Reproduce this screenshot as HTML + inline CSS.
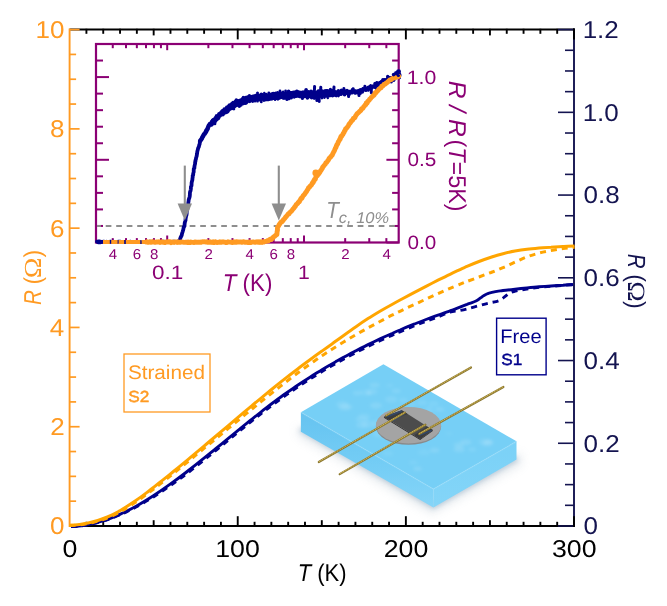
<!DOCTYPE html>
<html><head><meta charset="utf-8"><title>R(T) strained vs free</title>
<style>
html,body{margin:0;padding:0;background:#fff;}
body{width:667px;height:606px;overflow:hidden;position:relative;font-family:"Liberation Sans",sans-serif;}
</style></head><body>
<svg width="667" height="606" viewBox="0 0 667 606" style="position:absolute;left:0;top:0;display:block;will-change:transform;text-rendering:geometricPrecision">
<rect x="0" y="0" width="667" height="606" fill="#ffffff"/>
<defs>
<filter id="blur6" x="-30%" y="-30%" width="160%" height="160%"><feGaussianBlur stdDeviation="5"/></filter>
<filter id="blur3" x="-30%" y="-30%" width="160%" height="160%"><feGaussianBlur stdDeviation="2.6"/></filter>
<filter id="blur2" x="-30%" y="-30%" width="160%" height="160%"><feGaussianBlur stdDeviation="1.6"/></filter>
<filter id="blur1" x="-10%" y="-10%" width="120%" height="120%"><feGaussianBlur stdDeviation="0.45"/></filter>
<linearGradient id="gl" x1="0" y1="0" x2="0" y2="1"><stop offset="0" stop-color="#66c3f0"/><stop offset="0.55" stop-color="#74cdf5"/><stop offset="1" stop-color="#86d5f8"/></linearGradient>
<linearGradient id="gr" x1="0" y1="0" x2="0" y2="1"><stop offset="0" stop-color="#7ad1f7"/><stop offset="1" stop-color="#84d5f8"/></linearGradient>
<clipPath id="topclip"><polygon points="300.9,412.2 383.4,364.2 516.5,441.3 433.4,489"/></clipPath>
</defs>
<g>
<polygon points="296,426 299,437 432,514 521,465 522,452 436,500" fill="#8aa0b0" opacity="0.20" filter="url(#blur6)"/>
<polyline points="300.5,429 433.4,505.5 516.8,458" fill="none" stroke="#6f93b2" stroke-width="6" opacity="0.42" filter="url(#blur3)"/>
<g filter="url(#blur1)">
<polygon points="300.9,412.2 300.9,431.8 433.4,507.6 433.4,489" fill="url(#gl)"/>
<polygon points="516.5,441.3 516.5,459.6 433.4,507.6 433.4,489" fill="url(#gr)"/>
<polygon points="300.9,412.2 383.4,364.2 516.5,441.3 433.4,489" fill="#76cff6"/>
</g>
<g clip-path="url(#topclip)" filter="url(#blur2)">
<ellipse cx="395.2" cy="440.0" rx="4.4" ry="2.3" fill="#c6ecfc" opacity="0.15"/>
<ellipse cx="368.8" cy="393.5" rx="3.0" ry="1.6" fill="#c6ecfc" opacity="0.18"/>
<ellipse cx="362.2" cy="419.2" rx="6.7" ry="3.6" fill="#c6ecfc" opacity="0.13"/>
<ellipse cx="429.1" cy="411.5" rx="5.4" ry="2.9" fill="#c6ecfc" opacity="0.09"/>
<ellipse cx="458.7" cy="444.9" rx="5.0" ry="2.6" fill="#c6ecfc" opacity="0.17"/>
<ellipse cx="371.8" cy="391.6" rx="5.8" ry="3.1" fill="#c6ecfc" opacity="0.15"/>
<ellipse cx="342.4" cy="404.4" rx="6.2" ry="3.3" fill="#c6ecfc" opacity="0.13"/>
<ellipse cx="465.7" cy="442.2" rx="5.7" ry="3.0" fill="#c6ecfc" opacity="0.19"/>
<ellipse cx="434.6" cy="450.2" rx="4.7" ry="2.5" fill="#c6ecfc" opacity="0.19"/>
<ellipse cx="389.9" cy="385.4" rx="3.5" ry="1.9" fill="#c6ecfc" opacity="0.10"/>
<ellipse cx="433.6" cy="403.7" rx="5.3" ry="2.9" fill="#c6ecfc" opacity="0.11"/>
<ellipse cx="396.2" cy="418.9" rx="4.3" ry="2.3" fill="#c6ecfc" opacity="0.15"/>
<ellipse cx="459.2" cy="449.3" rx="5.6" ry="3.0" fill="#c6ecfc" opacity="0.19"/>
<ellipse cx="487.7" cy="443.9" rx="5.5" ry="2.9" fill="#c6ecfc" opacity="0.09"/>
<ellipse cx="485.1" cy="442.0" rx="6.4" ry="3.4" fill="#c6ecfc" opacity="0.14"/>
<ellipse cx="391.1" cy="399.3" rx="6.1" ry="3.3" fill="#c6ecfc" opacity="0.14"/>
<ellipse cx="344.9" cy="407.1" rx="6.2" ry="3.3" fill="#c6ecfc" opacity="0.20"/>
<ellipse cx="413.3" cy="462.6" rx="4.5" ry="2.4" fill="#c6ecfc" opacity="0.09"/>
<ellipse cx="424.0" cy="452.3" rx="6.3" ry="3.3" fill="#c6ecfc" opacity="0.08"/>
<ellipse cx="365.7" cy="392.6" rx="5.7" ry="3.0" fill="#c6ecfc" opacity="0.11"/>
<ellipse cx="488.3" cy="442.2" rx="4.9" ry="2.6" fill="#c6ecfc" opacity="0.20"/>
<ellipse cx="348.1" cy="407.0" rx="5.2" ry="2.8" fill="#c6ecfc" opacity="0.07"/>
<ellipse cx="377.2" cy="432.9" rx="5.3" ry="2.8" fill="#c6ecfc" opacity="0.09"/>
<ellipse cx="417.6" cy="468.8" rx="4.2" ry="2.2" fill="#c6ecfc" opacity="0.19"/>
<ellipse cx="422.3" cy="402.7" rx="4.7" ry="2.5" fill="#c6ecfc" opacity="0.14"/>
<ellipse cx="429.0" cy="427.0" rx="5.1" ry="2.7" fill="#c6ecfc" opacity="0.15"/>
<ellipse cx="439.7" cy="409.3" rx="4.6" ry="2.5" fill="#c6ecfc" opacity="0.16"/>
<ellipse cx="368.1" cy="424.3" rx="6.7" ry="3.6" fill="#c6ecfc" opacity="0.14"/>
<ellipse cx="357.4" cy="393.1" rx="4.6" ry="2.4" fill="#c6ecfc" opacity="0.15"/>
<ellipse cx="388.0" cy="453.4" rx="5.4" ry="2.9" fill="#c6ecfc" opacity="0.08"/>
<ellipse cx="413.5" cy="419.3" rx="5.5" ry="3.0" fill="#c6ecfc" opacity="0.12"/>
<ellipse cx="449.2" cy="433.6" rx="3.1" ry="1.6" fill="#c6ecfc" opacity="0.08"/>
<ellipse cx="472.2" cy="449.4" rx="3.9" ry="2.1" fill="#c6ecfc" opacity="0.13"/>
<ellipse cx="394.8" cy="411.3" rx="4.4" ry="2.3" fill="#c6ecfc" opacity="0.11"/>
<ellipse cx="410.0" cy="438.0" rx="4.1" ry="2.2" fill="#c6ecfc" opacity="0.12"/>
<ellipse cx="374.6" cy="385.1" rx="5.1" ry="2.7" fill="#c6ecfc" opacity="0.17"/>
<ellipse cx="364.4" cy="416.4" rx="6.0" ry="3.2" fill="#c6ecfc" opacity="0.10"/>
<ellipse cx="379.5" cy="435.0" rx="5.6" ry="3.0" fill="#c6ecfc" opacity="0.08"/>
<ellipse cx="377.6" cy="423.1" rx="6.1" ry="3.3" fill="#c6ecfc" opacity="0.13"/>
<ellipse cx="396.2" cy="390.9" rx="4.3" ry="2.3" fill="#c6ecfc" opacity="0.15"/>
<ellipse cx="429.6" cy="407.9" rx="3.8" ry="2.1" fill="#c6ecfc" opacity="0.09"/>
<ellipse cx="376.0" cy="405.5" rx="6.0" ry="3.2" fill="#c6ecfc" opacity="0.18"/>
<ellipse cx="361.8" cy="425.1" rx="6.0" ry="3.2" fill="#c6ecfc" opacity="0.15"/>
<ellipse cx="412.4" cy="404.3" rx="3.5" ry="1.9" fill="#c6ecfc" opacity="0.11"/>
<ellipse cx="403.3" cy="400.0" rx="4.3" ry="2.3" fill="#c6ecfc" opacity="0.12"/>
<ellipse cx="392.8" cy="424.0" rx="6.5" ry="3.4" fill="#c6ecfc" opacity="0.09"/>
</g>
<polyline points="300.9,412.4 433.4,489.2 516.5,441.5" fill="none" stroke="#a6e0fa" stroke-width="1.6" opacity="0.28" filter="url(#blur1)"/>
<line x1="433.4" y1="489.2" x2="433.4" y2="507" stroke="#8fd8f8" stroke-width="0.8" opacity="0.6"/>
<ellipse cx="408.5" cy="426.3" rx="32.6" ry="18.5" fill="#8a8a8a"/>
<ellipse cx="408.5" cy="425.2" rx="32.6" ry="18.3" fill="#a4a4a4"/>
<polygon points="383.9,417.7 420.1,440.0 432.8,431.0 432.8,430.1 420.2,439.0 384.0,416.8" fill="#2e2e2e"/>
<polygon points="384.0,416.8 401.8,410.2 432.8,430.1 420.2,439.0" fill="#4c4c4c"/>
<polygon points="384.0,416.8 401.8,410.2 407.6,413.9 390.2,420.6" fill="#3c3c3c"/>
<polygon points="414.2,435.3 427.0,426.4 432.8,430.1 420.2,439.0" fill="#3c3c3c"/>
<line x1="386.6" y1="416.9" x2="402.0" y2="411.0" stroke="#2f4a74" stroke-width="1.4" opacity="0.85"/>
<line x1="392.5" y1="421.0" x2="405.2" y2="413.5" stroke="#2f4a74" stroke-width="1.4" opacity="0.85"/>
<line x1="412.8" y1="432.2" x2="425.4" y2="425.6" stroke="#2f4a74" stroke-width="1.4" opacity="0.85"/>
<line x1="419.6" y1="435.2" x2="431.8" y2="430.3" stroke="#2f4a74" stroke-width="1.4" opacity="0.85"/>
<line x1="318.8" y1="462.0" x2="404.9" y2="412.6" stroke="#8a7630" stroke-width="2.2" stroke-linecap="round"/>
<line x1="318.8" y1="461.7" x2="404.9" y2="412.3" stroke="#d0b758" stroke-width="1.1" stroke-dasharray="1.2 0.7" stroke-linecap="butt"/>
<line x1="386.1" y1="415.6" x2="471.0" y2="367.5" stroke="#8a7630" stroke-width="2.2" stroke-linecap="round"/>
<line x1="386.1" y1="415.3" x2="471.0" y2="367.2" stroke="#d0b758" stroke-width="1.1" stroke-dasharray="1.2 0.7" stroke-linecap="butt"/>
<line x1="339.7" y1="474.1" x2="425.4" y2="424.7" stroke="#8a7630" stroke-width="2.2" stroke-linecap="round"/>
<line x1="339.7" y1="473.8" x2="425.4" y2="424.4" stroke="#d0b758" stroke-width="1.1" stroke-dasharray="1.2 0.7" stroke-linecap="butt"/>
<line x1="419.1" y1="434.0" x2="503.4" y2="387.0" stroke="#8a7630" stroke-width="2.2" stroke-linecap="round"/>
<line x1="419.1" y1="433.7" x2="503.4" y2="386.7" stroke="#d0b758" stroke-width="1.1" stroke-dasharray="1.2 0.7" stroke-linecap="butt"/>
</g>
<line x1="69.60" y1="29.60" x2="574.00" y2="29.60" stroke="#000" stroke-width="2.0" />
<line x1="69.60" y1="526.00" x2="574.00" y2="526.00" stroke="#000" stroke-width="2.0" />
<line x1="86.41" y1="28.80" x2="86.41" y2="33.80" stroke="#000" stroke-width="1.9" />
<line x1="86.41" y1="526.80" x2="86.41" y2="521.80" stroke="#000" stroke-width="1.9" />
<line x1="103.23" y1="28.80" x2="103.23" y2="33.80" stroke="#000" stroke-width="1.9" />
<line x1="103.23" y1="526.80" x2="103.23" y2="521.80" stroke="#000" stroke-width="1.9" />
<line x1="120.04" y1="28.80" x2="120.04" y2="33.80" stroke="#000" stroke-width="1.9" />
<line x1="120.04" y1="526.80" x2="120.04" y2="521.80" stroke="#000" stroke-width="1.9" />
<line x1="136.85" y1="28.80" x2="136.85" y2="33.80" stroke="#000" stroke-width="1.9" />
<line x1="136.85" y1="526.80" x2="136.85" y2="521.80" stroke="#000" stroke-width="1.9" />
<line x1="153.67" y1="28.80" x2="153.67" y2="35.40" stroke="#000" stroke-width="1.9" />
<line x1="153.67" y1="526.80" x2="153.67" y2="520.20" stroke="#000" stroke-width="1.9" />
<line x1="170.48" y1="28.80" x2="170.48" y2="33.80" stroke="#000" stroke-width="1.9" />
<line x1="170.48" y1="526.80" x2="170.48" y2="521.80" stroke="#000" stroke-width="1.9" />
<line x1="187.29" y1="28.80" x2="187.29" y2="33.80" stroke="#000" stroke-width="1.9" />
<line x1="187.29" y1="526.80" x2="187.29" y2="521.80" stroke="#000" stroke-width="1.9" />
<line x1="204.11" y1="28.80" x2="204.11" y2="33.80" stroke="#000" stroke-width="1.9" />
<line x1="204.11" y1="526.80" x2="204.11" y2="521.80" stroke="#000" stroke-width="1.9" />
<line x1="220.92" y1="28.80" x2="220.92" y2="33.80" stroke="#000" stroke-width="1.9" />
<line x1="220.92" y1="526.80" x2="220.92" y2="521.80" stroke="#000" stroke-width="1.9" />
<line x1="237.73" y1="28.80" x2="237.73" y2="39.40" stroke="#000" stroke-width="1.9" />
<line x1="237.73" y1="526.80" x2="237.73" y2="516.20" stroke="#000" stroke-width="1.9" />
<line x1="254.55" y1="28.80" x2="254.55" y2="33.80" stroke="#000" stroke-width="1.9" />
<line x1="254.55" y1="526.80" x2="254.55" y2="521.80" stroke="#000" stroke-width="1.9" />
<line x1="271.36" y1="28.80" x2="271.36" y2="33.80" stroke="#000" stroke-width="1.9" />
<line x1="271.36" y1="526.80" x2="271.36" y2="521.80" stroke="#000" stroke-width="1.9" />
<line x1="288.17" y1="28.80" x2="288.17" y2="33.80" stroke="#000" stroke-width="1.9" />
<line x1="288.17" y1="526.80" x2="288.17" y2="521.80" stroke="#000" stroke-width="1.9" />
<line x1="304.99" y1="28.80" x2="304.99" y2="33.80" stroke="#000" stroke-width="1.9" />
<line x1="304.99" y1="526.80" x2="304.99" y2="521.80" stroke="#000" stroke-width="1.9" />
<line x1="321.80" y1="28.80" x2="321.80" y2="35.40" stroke="#000" stroke-width="1.9" />
<line x1="321.80" y1="526.80" x2="321.80" y2="520.20" stroke="#000" stroke-width="1.9" />
<line x1="338.61" y1="28.80" x2="338.61" y2="33.80" stroke="#000" stroke-width="1.9" />
<line x1="338.61" y1="526.80" x2="338.61" y2="521.80" stroke="#000" stroke-width="1.9" />
<line x1="355.43" y1="28.80" x2="355.43" y2="33.80" stroke="#000" stroke-width="1.9" />
<line x1="355.43" y1="526.80" x2="355.43" y2="521.80" stroke="#000" stroke-width="1.9" />
<line x1="372.24" y1="28.80" x2="372.24" y2="33.80" stroke="#000" stroke-width="1.9" />
<line x1="372.24" y1="526.80" x2="372.24" y2="521.80" stroke="#000" stroke-width="1.9" />
<line x1="389.05" y1="28.80" x2="389.05" y2="33.80" stroke="#000" stroke-width="1.9" />
<line x1="389.05" y1="526.80" x2="389.05" y2="521.80" stroke="#000" stroke-width="1.9" />
<line x1="405.87" y1="28.80" x2="405.87" y2="39.40" stroke="#000" stroke-width="1.9" />
<line x1="405.87" y1="526.80" x2="405.87" y2="516.20" stroke="#000" stroke-width="1.9" />
<line x1="422.68" y1="28.80" x2="422.68" y2="33.80" stroke="#000" stroke-width="1.9" />
<line x1="422.68" y1="526.80" x2="422.68" y2="521.80" stroke="#000" stroke-width="1.9" />
<line x1="439.49" y1="28.80" x2="439.49" y2="33.80" stroke="#000" stroke-width="1.9" />
<line x1="439.49" y1="526.80" x2="439.49" y2="521.80" stroke="#000" stroke-width="1.9" />
<line x1="456.31" y1="28.80" x2="456.31" y2="33.80" stroke="#000" stroke-width="1.9" />
<line x1="456.31" y1="526.80" x2="456.31" y2="521.80" stroke="#000" stroke-width="1.9" />
<line x1="473.12" y1="28.80" x2="473.12" y2="33.80" stroke="#000" stroke-width="1.9" />
<line x1="473.12" y1="526.80" x2="473.12" y2="521.80" stroke="#000" stroke-width="1.9" />
<line x1="489.93" y1="28.80" x2="489.93" y2="35.40" stroke="#000" stroke-width="1.9" />
<line x1="489.93" y1="526.80" x2="489.93" y2="520.20" stroke="#000" stroke-width="1.9" />
<line x1="506.75" y1="28.80" x2="506.75" y2="33.80" stroke="#000" stroke-width="1.9" />
<line x1="506.75" y1="526.80" x2="506.75" y2="521.80" stroke="#000" stroke-width="1.9" />
<line x1="523.56" y1="28.80" x2="523.56" y2="33.80" stroke="#000" stroke-width="1.9" />
<line x1="523.56" y1="526.80" x2="523.56" y2="521.80" stroke="#000" stroke-width="1.9" />
<line x1="540.37" y1="28.80" x2="540.37" y2="33.80" stroke="#000" stroke-width="1.9" />
<line x1="540.37" y1="526.80" x2="540.37" y2="521.80" stroke="#000" stroke-width="1.9" />
<line x1="557.19" y1="28.80" x2="557.19" y2="33.80" stroke="#000" stroke-width="1.9" />
<line x1="557.19" y1="526.80" x2="557.19" y2="521.80" stroke="#000" stroke-width="1.9" />
<line x1="574.00" y1="28.80" x2="574.00" y2="39.40" stroke="#000" stroke-width="1.9" />
<line x1="574.00" y1="526.80" x2="574.00" y2="516.20" stroke="#000" stroke-width="1.9" />
<line x1="574.00" y1="28.60" x2="574.00" y2="527.00" stroke="#141450" stroke-width="1.9" />
<line x1="558.00" y1="526.00" x2="574.00" y2="526.00" stroke="#141450" stroke-width="1.6" />
<line x1="565.00" y1="505.32" x2="574.00" y2="505.32" stroke="#141450" stroke-width="1.6" />
<line x1="565.00" y1="484.63" x2="574.00" y2="484.63" stroke="#141450" stroke-width="1.6" />
<line x1="565.00" y1="463.95" x2="574.00" y2="463.95" stroke="#141450" stroke-width="1.6" />
<line x1="558.00" y1="443.27" x2="574.00" y2="443.27" stroke="#141450" stroke-width="1.6" />
<line x1="565.00" y1="422.58" x2="574.00" y2="422.58" stroke="#141450" stroke-width="1.6" />
<line x1="565.00" y1="401.90" x2="574.00" y2="401.90" stroke="#141450" stroke-width="1.6" />
<line x1="565.00" y1="381.22" x2="574.00" y2="381.22" stroke="#141450" stroke-width="1.6" />
<line x1="558.00" y1="360.53" x2="574.00" y2="360.53" stroke="#141450" stroke-width="1.6" />
<line x1="565.00" y1="339.85" x2="574.00" y2="339.85" stroke="#141450" stroke-width="1.6" />
<line x1="565.00" y1="319.17" x2="574.00" y2="319.17" stroke="#141450" stroke-width="1.6" />
<line x1="565.00" y1="298.48" x2="574.00" y2="298.48" stroke="#141450" stroke-width="1.6" />
<line x1="558.00" y1="277.80" x2="574.00" y2="277.80" stroke="#141450" stroke-width="1.6" />
<line x1="565.00" y1="257.12" x2="574.00" y2="257.12" stroke="#141450" stroke-width="1.6" />
<line x1="565.00" y1="236.43" x2="574.00" y2="236.43" stroke="#141450" stroke-width="1.6" />
<line x1="565.00" y1="215.75" x2="574.00" y2="215.75" stroke="#141450" stroke-width="1.6" />
<line x1="558.00" y1="195.07" x2="574.00" y2="195.07" stroke="#141450" stroke-width="1.6" />
<line x1="565.00" y1="174.38" x2="574.00" y2="174.38" stroke="#141450" stroke-width="1.6" />
<line x1="565.00" y1="153.70" x2="574.00" y2="153.70" stroke="#141450" stroke-width="1.6" />
<line x1="565.00" y1="133.02" x2="574.00" y2="133.02" stroke="#141450" stroke-width="1.6" />
<line x1="558.00" y1="112.33" x2="574.00" y2="112.33" stroke="#141450" stroke-width="1.6" />
<line x1="565.00" y1="91.65" x2="574.00" y2="91.65" stroke="#141450" stroke-width="1.6" />
<line x1="565.00" y1="70.97" x2="574.00" y2="70.97" stroke="#141450" stroke-width="1.6" />
<line x1="565.00" y1="50.28" x2="574.00" y2="50.28" stroke="#141450" stroke-width="1.6" />
<line x1="558.00" y1="29.60" x2="574.00" y2="29.60" stroke="#141450" stroke-width="1.6" />
<line x1="574.00" y1="28.60" x2="574.00" y2="39.40" stroke="#000" stroke-width="1.9" />
<line x1="574.00" y1="527.00" x2="574.00" y2="516.20" stroke="#000" stroke-width="1.9" />
<line x1="69.60" y1="28.60" x2="69.60" y2="527.00" stroke="#FF9A22" stroke-width="1.9" />
<line x1="69.60" y1="526.00" x2="79.60" y2="526.00" stroke="#FF9A22" stroke-width="1.7" />
<line x1="69.60" y1="501.18" x2="76.10" y2="501.18" stroke="#FF9A22" stroke-width="1.7" />
<line x1="69.60" y1="476.36" x2="76.10" y2="476.36" stroke="#FF9A22" stroke-width="1.7" />
<line x1="69.60" y1="451.54" x2="76.10" y2="451.54" stroke="#FF9A22" stroke-width="1.7" />
<line x1="69.60" y1="426.72" x2="79.60" y2="426.72" stroke="#FF9A22" stroke-width="1.7" />
<line x1="69.60" y1="401.90" x2="76.10" y2="401.90" stroke="#FF9A22" stroke-width="1.7" />
<line x1="69.60" y1="377.08" x2="76.10" y2="377.08" stroke="#FF9A22" stroke-width="1.7" />
<line x1="69.60" y1="352.26" x2="76.10" y2="352.26" stroke="#FF9A22" stroke-width="1.7" />
<line x1="69.60" y1="327.44" x2="79.60" y2="327.44" stroke="#FF9A22" stroke-width="1.7" />
<line x1="69.60" y1="302.62" x2="76.10" y2="302.62" stroke="#FF9A22" stroke-width="1.7" />
<line x1="69.60" y1="277.80" x2="76.10" y2="277.80" stroke="#FF9A22" stroke-width="1.7" />
<line x1="69.60" y1="252.98" x2="76.10" y2="252.98" stroke="#FF9A22" stroke-width="1.7" />
<line x1="69.60" y1="228.16" x2="79.60" y2="228.16" stroke="#FF9A22" stroke-width="1.7" />
<line x1="69.60" y1="203.34" x2="76.10" y2="203.34" stroke="#FF9A22" stroke-width="1.7" />
<line x1="69.60" y1="178.52" x2="76.10" y2="178.52" stroke="#FF9A22" stroke-width="1.7" />
<line x1="69.60" y1="153.70" x2="76.10" y2="153.70" stroke="#FF9A22" stroke-width="1.7" />
<line x1="69.60" y1="128.88" x2="79.60" y2="128.88" stroke="#FF9A22" stroke-width="1.7" />
<line x1="69.60" y1="104.06" x2="76.10" y2="104.06" stroke="#FF9A22" stroke-width="1.7" />
<line x1="69.60" y1="79.24" x2="76.10" y2="79.24" stroke="#FF9A22" stroke-width="1.7" />
<line x1="69.60" y1="54.42" x2="76.10" y2="54.42" stroke="#FF9A22" stroke-width="1.7" />
<line x1="69.60" y1="29.60" x2="79.60" y2="29.60" stroke="#FF9A22" stroke-width="1.7" />
<path d="M71.0,526.6 C72.2,526.6 75.8,526.4 78.0,526.2 C80.2,526.0 81.5,525.9 84.0,525.4 C86.5,525.0 90.0,524.4 93.0,523.7 C96.0,523.0 99.0,522.2 102.0,521.3 C105.0,520.5 108.0,519.5 111.0,518.4 C114.0,517.3 117.5,515.9 120.0,514.8 C122.5,513.8 123.2,513.4 126.0,512.1 C128.8,510.8 132.0,509.3 136.6,506.7 C141.2,504.2 147.8,500.4 153.4,496.9 C159.0,493.4 164.6,489.7 170.2,485.7 C175.8,481.8 181.6,477.6 187.2,473.3 C192.8,469.0 199.2,463.9 204.0,460.0 C208.8,456.2 212.0,453.5 216.0,450.3 C220.0,447.0 224.0,443.7 228.0,440.4 C232.0,437.1 236.0,433.8 240.0,430.6 C244.0,427.3 248.1,423.9 252.0,420.9 C255.9,417.8 259.5,414.9 263.2,412.0 C266.9,409.2 270.2,406.6 274.0,403.8 C277.8,401.0 282.0,397.9 286.0,395.1 C290.0,392.3 294.0,389.5 298.0,386.8 C302.0,384.1 306.0,381.5 310.0,379.0 C314.0,376.4 318.7,373.6 322.0,371.5 C325.3,369.5 327.5,368.2 330.0,366.8 C332.5,365.3 334.5,364.2 336.8,362.9 C339.1,361.6 340.8,360.6 344.0,358.9 C347.2,357.1 352.0,354.6 356.0,352.5 C360.0,350.4 364.0,348.4 368.0,346.4 C372.0,344.5 376.0,342.6 380.0,340.7 C384.0,338.8 388.7,336.7 392.0,335.3 C395.3,333.8 396.3,333.3 400.0,331.8 C403.7,330.2 409.7,327.7 414.0,326.0 C418.3,324.3 422.0,322.8 426.0,321.3 C430.0,319.8 434.0,318.4 438.0,316.9 C442.0,315.3 446.7,313.2 450.0,312.2 C453.3,311.2 455.2,311.3 458.0,310.8 C460.8,310.3 463.4,309.8 466.7,309.0 C470.0,308.2 474.2,306.9 477.9,305.9 C481.5,304.9 485.6,303.8 488.6,303.1 C491.6,302.4 494.1,302.1 496.0,301.6 C497.9,301.1 498.6,301.0 500.0,300.3 C501.4,299.6 502.9,298.2 504.2,297.2 C505.5,296.2 506.8,295.0 507.8,294.2 C508.9,293.4 509.5,293.1 510.5,292.6 C511.5,292.2 511.9,292.0 513.8,291.5 C515.7,291.0 518.6,290.4 522.1,289.8 C525.6,289.2 530.2,288.5 535.0,287.9 C539.8,287.3 546.3,286.7 551.0,286.3 C555.7,285.9 559.3,285.7 563.0,285.4 C566.7,285.1 571.3,284.8 573.0,284.7" fill="none" stroke="#00008B" stroke-width="2.9" stroke-dasharray="6 5"/>
<path d="M71.0,526.6 C72.2,526.6 75.8,526.4 78.0,526.2 C80.2,526.0 81.5,525.9 84.0,525.4 C86.5,525.0 90.0,524.4 93.0,523.7 C96.0,523.0 99.0,522.1 102.0,521.2 C105.0,520.3 108.0,519.2 111.0,518.1 C114.0,516.9 117.5,515.4 120.0,514.3 C122.5,513.2 123.2,512.9 126.0,511.5 C128.8,510.1 132.0,508.5 136.6,505.9 C141.2,503.3 147.8,499.4 153.4,495.7 C159.0,492.1 164.6,488.3 170.2,484.2 C175.8,480.2 181.6,475.9 187.2,471.5 C192.8,467.2 199.2,462.1 204.0,458.2 C208.8,454.4 212.0,451.7 216.0,448.5 C220.0,445.2 224.0,441.9 228.0,438.6 C232.0,435.3 236.0,432.0 240.0,428.8 C244.0,425.5 248.1,422.1 252.0,419.1 C255.9,416.0 259.5,413.1 263.2,410.2 C266.9,407.4 270.2,404.8 274.0,402.0 C277.8,399.2 282.0,396.1 286.0,393.3 C290.0,390.5 294.0,387.7 298.0,385.0 C302.0,382.3 306.0,379.7 310.0,377.2 C314.0,374.6 318.7,371.8 322.0,369.7 C325.3,367.7 327.5,366.4 330.0,365.0 C332.5,363.5 334.5,362.4 336.8,361.1 C339.1,359.8 340.8,358.8 344.0,357.1 C347.2,355.3 352.0,352.8 356.0,350.7 C360.0,348.6 364.0,346.6 368.0,344.6 C372.0,342.7 376.0,340.8 380.0,338.9 C384.0,337.0 388.7,334.9 392.0,333.5 C395.3,332.0 396.3,331.5 400.0,330.0 C403.7,328.4 409.7,325.9 414.0,324.2 C418.3,322.5 422.0,321.0 426.0,319.5 C430.0,318.0 434.0,316.5 438.0,315.1 C442.0,313.6 447.2,311.8 450.0,310.8 C452.8,309.8 452.2,310.2 455.0,309.1 C457.8,308.0 464.2,305.4 467.0,304.4 C469.8,303.3 470.6,303.2 472.0,302.7 C473.4,302.2 474.3,301.8 475.4,301.3 C476.5,300.8 477.5,300.2 478.5,299.5 C479.5,298.8 480.5,298.0 481.4,297.3 C482.3,296.6 483.2,296.0 484.0,295.5 C484.8,295.0 485.4,294.6 486.2,294.2 C486.9,293.8 487.7,293.6 488.5,293.3 C489.3,293.1 489.6,293.0 491.0,292.7 C492.4,292.4 495.0,291.7 497.0,291.3 C499.0,290.9 500.0,290.9 503.0,290.5 C506.0,290.1 511.0,289.6 515.0,289.2 C519.0,288.8 523.0,288.3 527.0,287.9 C531.0,287.5 535.0,287.1 539.0,286.8 C543.0,286.5 547.0,286.3 551.0,286.0 C555.0,285.7 559.3,285.4 563.0,285.2 C566.7,284.9 571.3,284.6 573.0,284.5" fill="none" stroke="#00008B" stroke-width="2.9"/>
<path d="M69.6,525.4 C70.0,525.4 71.1,525.4 72.0,525.3 C72.9,525.3 73.0,525.3 75.0,525.2 C77.0,525.0 81.0,524.7 84.0,524.2 C87.0,523.8 90.0,523.2 93.0,522.5 C96.0,521.8 99.0,520.9 102.0,519.9 C105.0,518.8 108.0,517.7 111.0,516.3 C114.0,515.0 117.5,513.2 120.0,511.9 C122.5,510.6 123.2,510.1 126.0,508.4 C128.8,506.7 132.9,504.0 136.6,501.5 C140.3,499.0 145.2,495.3 148.0,493.3 C150.8,491.2 151.4,490.7 153.4,489.2 C155.4,487.7 157.2,486.3 160.0,484.1 C162.8,481.9 166.9,478.6 170.2,476.0 C173.5,473.3 176.4,471.0 180.0,468.1 C183.6,465.1 188.0,461.6 192.0,458.3 C196.0,455.0 200.0,451.7 204.0,448.4 C208.0,445.1 212.0,441.9 216.0,438.6 C220.0,435.3 224.0,432.0 228.0,428.7 C232.0,425.4 236.0,422.1 240.0,418.8 C244.0,415.6 248.3,412.0 252.0,409.0 C255.7,406.0 258.3,403.8 262.0,400.9 C265.7,398.0 270.0,394.5 274.0,391.3 C278.0,388.2 282.0,385.0 286.0,381.9 C290.0,378.8 294.0,375.7 298.0,372.7 C302.0,369.8 306.0,366.9 310.0,364.1 C314.0,361.2 318.3,358.2 322.0,355.7 C325.7,353.2 328.3,351.6 332.0,349.2 C335.7,346.9 340.0,344.2 344.0,341.8 C348.0,339.4 352.0,337.0 356.0,334.7 C360.0,332.3 364.0,330.1 368.0,327.9 C372.0,325.7 376.0,323.6 380.0,321.5 C384.0,319.4 388.3,317.0 392.0,315.2 C395.7,313.3 398.3,312.0 402.0,310.3 C405.7,308.5 410.0,306.5 414.0,304.7 C418.0,302.8 422.0,300.9 426.0,299.1 C430.0,297.3 434.0,295.5 438.0,293.7 C442.0,291.9 446.0,290.1 450.0,288.4 C454.0,286.7 459.2,284.6 462.0,283.4 C464.8,282.3 464.2,282.5 467.0,281.5 C469.8,280.4 475.0,278.5 479.0,277.0 C483.0,275.5 487.0,274.0 491.0,272.5 C495.0,270.9 499.0,269.3 503.0,267.6 C507.0,265.9 511.0,263.9 515.0,262.1 C519.0,260.4 523.0,258.4 527.0,256.9 C531.0,255.4 535.0,254.1 539.0,253.0 C543.0,252.0 547.0,251.3 551.0,250.6 C555.0,249.8 559.1,249.1 563.0,248.6 C566.9,248.0 572.6,247.4 574.5,247.2" fill="none" stroke="#FFA500" stroke-width="3.0" stroke-dasharray="6 5"/>
<path d="M69.6,525.4 C70.0,525.4 71.1,525.3 72.0,525.3 C72.9,525.2 73.0,525.2 75.0,525.0 C77.0,524.8 81.0,524.3 84.0,523.8 C87.0,523.3 90.0,522.6 93.0,521.8 C96.0,521.0 99.0,520.1 102.0,519.0 C105.0,517.9 108.0,516.7 111.0,515.3 C114.0,513.9 117.5,512.0 120.0,510.7 C122.5,509.3 123.2,508.9 126.0,507.1 C128.8,505.3 132.9,502.6 136.6,500.1 C140.3,497.5 145.2,493.8 148.0,491.7 C150.8,489.6 151.4,489.1 153.4,487.5 C155.4,485.9 157.2,484.5 160.0,482.3 C162.8,480.0 166.9,476.8 170.2,474.1 C173.5,471.4 176.4,469.1 180.0,466.1 C183.6,463.1 188.0,459.5 192.0,456.2 C196.0,452.8 200.0,449.5 204.0,446.1 C208.0,442.8 212.0,439.4 216.0,436.0 C220.0,432.6 224.0,429.3 228.0,425.9 C232.0,422.5 236.0,419.1 240.0,415.7 C244.0,412.3 248.3,408.7 252.0,405.6 C255.7,402.5 258.3,400.3 262.0,397.3 C265.7,394.3 270.0,390.7 274.0,387.5 C278.0,384.2 282.0,381.0 286.0,377.9 C290.0,374.8 294.0,371.7 298.0,368.7 C302.0,365.6 306.0,362.7 310.0,359.8 C314.0,356.8 318.3,353.7 322.0,351.1 C325.7,348.4 328.3,346.5 332.0,343.9 C335.7,341.2 340.0,338.0 344.0,335.2 C348.0,332.3 352.0,329.4 356.0,326.7 C360.0,323.9 364.0,321.2 368.0,318.6 C372.0,316.1 376.0,313.7 380.0,311.3 C384.0,308.9 388.3,306.5 392.0,304.5 C395.7,302.4 398.3,301.0 402.0,299.0 C405.7,297.0 410.0,294.7 414.0,292.6 C418.0,290.5 422.0,288.4 426.0,286.3 C430.0,284.3 434.0,282.2 438.0,280.2 C442.0,278.2 446.0,276.2 450.0,274.3 C454.0,272.3 459.2,270.0 462.0,268.6 C464.8,267.3 464.2,267.6 467.0,266.4 C469.8,265.2 475.0,263.0 479.0,261.5 C483.0,259.9 487.0,258.5 491.0,257.2 C495.0,255.9 499.0,254.7 503.0,253.7 C507.0,252.7 511.0,251.8 515.0,251.1 C519.0,250.4 523.0,249.8 527.0,249.3 C531.0,248.8 535.0,248.4 539.0,248.0 C543.0,247.7 547.0,247.4 551.0,247.2 C555.0,246.9 559.1,246.8 563.0,246.6 C566.9,246.4 572.6,246.1 574.5,246.1" fill="none" stroke="#FFA500" stroke-width="3.0"/>
<rect x="96.0" y="44.0" width="302.7" height="198.5" fill="#fff" stroke="none"/>
<line x1="112.76" y1="44.00" x2="112.76" y2="48.20" stroke="#8B0074" stroke-width="2" />
<line x1="112.76" y1="242.50" x2="112.76" y2="238.10" stroke="#8B0074" stroke-width="2" />
<line x1="126.02" y1="44.00" x2="126.02" y2="48.20" stroke="#8B0074" stroke-width="2" />
<line x1="126.02" y1="242.50" x2="126.02" y2="238.10" stroke="#8B0074" stroke-width="2" />
<line x1="136.85" y1="44.00" x2="136.85" y2="48.20" stroke="#8B0074" stroke-width="2" />
<line x1="136.85" y1="242.50" x2="136.85" y2="238.10" stroke="#8B0074" stroke-width="2" />
<line x1="146.01" y1="44.00" x2="146.01" y2="48.20" stroke="#8B0074" stroke-width="2" />
<line x1="146.01" y1="242.50" x2="146.01" y2="238.10" stroke="#8B0074" stroke-width="2" />
<line x1="153.94" y1="44.00" x2="153.94" y2="48.20" stroke="#8B0074" stroke-width="2" />
<line x1="153.94" y1="242.50" x2="153.94" y2="238.10" stroke="#8B0074" stroke-width="2" />
<line x1="160.94" y1="44.00" x2="160.94" y2="48.20" stroke="#8B0074" stroke-width="2" />
<line x1="160.94" y1="242.50" x2="160.94" y2="238.10" stroke="#8B0074" stroke-width="2" />
<line x1="167.20" y1="44.00" x2="167.20" y2="50.20" stroke="#8B0074" stroke-width="2" />
<line x1="167.20" y1="242.50" x2="167.20" y2="235.50" stroke="#8B0074" stroke-width="2" />
<line x1="208.38" y1="44.00" x2="208.38" y2="48.20" stroke="#8B0074" stroke-width="2" />
<line x1="208.38" y1="242.50" x2="208.38" y2="238.10" stroke="#8B0074" stroke-width="2" />
<line x1="232.47" y1="44.00" x2="232.47" y2="48.20" stroke="#8B0074" stroke-width="2" />
<line x1="232.47" y1="242.50" x2="232.47" y2="238.10" stroke="#8B0074" stroke-width="2" />
<line x1="249.56" y1="44.00" x2="249.56" y2="48.20" stroke="#8B0074" stroke-width="2" />
<line x1="249.56" y1="242.50" x2="249.56" y2="238.10" stroke="#8B0074" stroke-width="2" />
<line x1="262.82" y1="44.00" x2="262.82" y2="48.20" stroke="#8B0074" stroke-width="2" />
<line x1="262.82" y1="242.50" x2="262.82" y2="238.10" stroke="#8B0074" stroke-width="2" />
<line x1="273.65" y1="44.00" x2="273.65" y2="48.20" stroke="#8B0074" stroke-width="2" />
<line x1="273.65" y1="242.50" x2="273.65" y2="238.10" stroke="#8B0074" stroke-width="2" />
<line x1="282.81" y1="44.00" x2="282.81" y2="48.20" stroke="#8B0074" stroke-width="2" />
<line x1="282.81" y1="242.50" x2="282.81" y2="238.10" stroke="#8B0074" stroke-width="2" />
<line x1="290.74" y1="44.00" x2="290.74" y2="48.20" stroke="#8B0074" stroke-width="2" />
<line x1="290.74" y1="242.50" x2="290.74" y2="238.10" stroke="#8B0074" stroke-width="2" />
<line x1="297.74" y1="44.00" x2="297.74" y2="48.20" stroke="#8B0074" stroke-width="2" />
<line x1="297.74" y1="242.50" x2="297.74" y2="238.10" stroke="#8B0074" stroke-width="2" />
<line x1="304.00" y1="44.00" x2="304.00" y2="50.20" stroke="#8B0074" stroke-width="2" />
<line x1="304.00" y1="242.50" x2="304.00" y2="235.50" stroke="#8B0074" stroke-width="2" />
<line x1="345.18" y1="44.00" x2="345.18" y2="48.20" stroke="#8B0074" stroke-width="2" />
<line x1="345.18" y1="242.50" x2="345.18" y2="238.10" stroke="#8B0074" stroke-width="2" />
<line x1="369.27" y1="44.00" x2="369.27" y2="48.20" stroke="#8B0074" stroke-width="2" />
<line x1="369.27" y1="242.50" x2="369.27" y2="238.10" stroke="#8B0074" stroke-width="2" />
<line x1="386.36" y1="44.00" x2="386.36" y2="48.20" stroke="#8B0074" stroke-width="2" />
<line x1="386.36" y1="242.50" x2="386.36" y2="238.10" stroke="#8B0074" stroke-width="2" />
<line x1="96.00" y1="242.50" x2="109.00" y2="242.50" stroke="#8B0074" stroke-width="2" />
<line x1="398.70" y1="242.50" x2="386.40" y2="242.50" stroke="#8B0074" stroke-width="2" />
<line x1="96.00" y1="225.96" x2="103.00" y2="225.96" stroke="#8B0074" stroke-width="2" />
<line x1="398.70" y1="225.96" x2="392.10" y2="225.96" stroke="#8B0074" stroke-width="2" />
<line x1="96.00" y1="209.42" x2="103.00" y2="209.42" stroke="#8B0074" stroke-width="2" />
<line x1="398.70" y1="209.42" x2="392.10" y2="209.42" stroke="#8B0074" stroke-width="2" />
<line x1="96.00" y1="192.88" x2="103.00" y2="192.88" stroke="#8B0074" stroke-width="2" />
<line x1="398.70" y1="192.88" x2="392.10" y2="192.88" stroke="#8B0074" stroke-width="2" />
<line x1="96.00" y1="176.33" x2="103.00" y2="176.33" stroke="#8B0074" stroke-width="2" />
<line x1="398.70" y1="176.33" x2="392.10" y2="176.33" stroke="#8B0074" stroke-width="2" />
<line x1="96.00" y1="159.79" x2="109.00" y2="159.79" stroke="#8B0074" stroke-width="2" />
<line x1="398.70" y1="159.79" x2="386.40" y2="159.79" stroke="#8B0074" stroke-width="2" />
<line x1="96.00" y1="143.25" x2="103.00" y2="143.25" stroke="#8B0074" stroke-width="2" />
<line x1="398.70" y1="143.25" x2="392.10" y2="143.25" stroke="#8B0074" stroke-width="2" />
<line x1="96.00" y1="126.71" x2="103.00" y2="126.71" stroke="#8B0074" stroke-width="2" />
<line x1="398.70" y1="126.71" x2="392.10" y2="126.71" stroke="#8B0074" stroke-width="2" />
<line x1="96.00" y1="110.17" x2="103.00" y2="110.17" stroke="#8B0074" stroke-width="2" />
<line x1="398.70" y1="110.17" x2="392.10" y2="110.17" stroke="#8B0074" stroke-width="2" />
<line x1="96.00" y1="93.62" x2="103.00" y2="93.62" stroke="#8B0074" stroke-width="2" />
<line x1="398.70" y1="93.62" x2="392.10" y2="93.62" stroke="#8B0074" stroke-width="2" />
<line x1="96.00" y1="77.08" x2="109.00" y2="77.08" stroke="#8B0074" stroke-width="2" />
<line x1="398.70" y1="77.08" x2="386.40" y2="77.08" stroke="#8B0074" stroke-width="2" />
<line x1="96.00" y1="60.54" x2="103.00" y2="60.54" stroke="#8B0074" stroke-width="2" />
<line x1="398.70" y1="60.54" x2="392.10" y2="60.54" stroke="#8B0074" stroke-width="2" />
<line x1="96.00" y1="44.00" x2="103.00" y2="44.00" stroke="#8B0074" stroke-width="2" />
<line x1="398.70" y1="44.00" x2="392.10" y2="44.00" stroke="#8B0074" stroke-width="2" />
<rect x="96.0" y="44.0" width="302.7" height="198.5" fill="none" stroke="#8B0074" stroke-width="2.2"/>
<line x1="97.00" y1="226.00" x2="397.70" y2="226.00" stroke="#8E8E8E" stroke-width="1.9" stroke-dasharray="5.7 4.8" stroke-dashoffset="1.8"/>
<path d="M97.0,241.7 L98.4,241.6 L99.7,241.8 L101.0,241.9 L102.3,241.9 L103.7,241.7 L105.1,242.1 L106.4,241.7 L107.9,242.2 L109.2,241.8 L110.6,241.6 L112.0,241.8 L113.1,241.7 L114.5,242.1 L115.9,241.9 L117.3,241.8 L118.7,241.6 L119.9,241.7 L121.3,241.9 L122.6,242.0 L123.9,241.8 L125.3,242.0 L126.5,241.9 L127.8,242.1 L129.2,241.8 L130.6,241.7 L131.7,242.1 L133.0,241.9 L134.2,242.0 L135.7,241.9 L137.0,241.8 L138.3,242.0 L139.6,241.9 L141.0,242.2 L142.2,242.0 L143.4,242.0 L144.8,242.2 L146.2,241.8 L147.4,242.0 L148.6,241.9 L149.9,241.7 L151.3,242.1 L152.7,241.7 L154.1,242.1 L155.4,241.9 L156.9,242.1 L158.3,242.1 L159.6,241.8 L161.0,242.1 L162.5,241.7 L163.7,241.7 L165.1,241.9 L166.5,241.8 L167.8,241.9 L169.2,241.9 L170.7,242.0 L172.0,242.0 L173.7,241.6 L175.4,241.9 L177.1,241.9 L179.4,240.7 L179.9,239.6 L180.5,237.7 L181.2,236.4 L181.8,235.0 L182.0,233.7 L182.4,232.5 L182.7,231.6 L183.3,229.5 L183.5,228.3 L183.9,226.7 L184.5,226.2 L184.6,224.3 L184.8,222.5 L185.2,221.3 L185.6,219.9 L185.5,219.3 L185.9,217.1 L186.2,215.7 L186.4,215.3 L186.7,213.6 L186.7,212.0 L186.9,211.0 L187.3,209.7 L187.4,207.8 L187.9,207.2 L188.1,205.7 L188.3,204.2 L188.3,202.7 L188.6,200.9 L188.7,199.8 L189.0,198.8 L189.5,197.3 L189.7,196.5 L189.9,194.5 L189.9,193.0 L190.1,191.7 L190.5,191.0 L190.8,189.3 L190.9,188.3 L190.9,186.8 L191.5,185.6 L191.6,183.9 L191.6,182.9 L191.9,181.6 L192.4,179.8 L192.4,179.0 L192.7,176.9 L192.7,175.6 L193.2,174.9 L193.2,173.5 L193.7,172.0 L193.7,170.6 L193.8,168.7 L194.4,168.0 L194.4,166.9 L194.6,165.6 L195.1,163.6 L195.1,162.4 L195.4,161.4 L195.6,159.9 L195.9,159.1 L196.2,157.3 L196.6,156.4 L196.8,155.1 L197.1,153.4 L197.3,151.6 L197.6,150.5 L197.8,149.7 L198.2,148.0 L198.9,146.8 L199.1,145.4 L199.6,144.3 L199.8,142.7 L200.1,140.9 L200.9,139.9 L201.4,139.2 L202.3,137.5 L202.8,136.4 L203.4,135.6" fill="none" stroke="#00008B" stroke-width="3.8" stroke-linejoin="round" stroke-linecap="round"/>
<path d="M200.1,140.9 L200.9,139.9 L201.4,139.2 L202.3,137.5 L202.8,136.4 L203.4,135.6 L204.0,134.2 L204.7,133.8 L205.5,132.5 L206.5,130.1 L207.0,130.1 L208.0,127.4 L208.3,126.8 L209.0,125.2 L209.8,124.7 L211.4,124.0 L212.0,122.7 L213.4,120.6" fill="none" stroke="#00008B" stroke-width="4.4" stroke-linejoin="round" stroke-linecap="round"/>
<path d="M211.4,124.0 L212.0,122.7 L213.4,120.6 L214.6,121.0 L215.1,119.9 L216.3,118.0 L217.8,117.8 L218.2,116.2 L219.5,115.2 L220.3,114.3 L221.7,113.0 L222.6,112.9 L223.3,111.9 L224.8,111.4 L225.4,111.4" fill="none" stroke="#00008B" stroke-width="5.2" stroke-linejoin="round" stroke-linecap="round"/>
<path d="M223.3,111.9 L224.8,111.4 L225.4,111.4 L227.0,110.5 L227.6,108.4 L228.6,108.5 L230.0,106.5 L231.4,107.1 L232.9,105.1 L233.7,105.5 L235.3,104.3 L236.1,102.6 L237.8,102.8 L238.6,103.2" fill="none" stroke="#00008B" stroke-width="6.2" stroke-linejoin="round" stroke-linecap="round"/>
<path d="M237.8,102.8 L238.6,103.2 L240.3,102.4 L241.1,102.0 L242.3,101.7 L243.9,100.4 L245.2,101.1 L246.3,99.3 L247.7,99.1 L249.0,98.7 L250.5,98.6 L252.3,98.5 L254.2,98.2 L255.4,97.8 L256.7,97.4 L258.0,97.2 L259.7,97.9 L260.7,97.6 L262.6,96.8 L264.0,97.2 L265.1,97.7 L266.4,96.9 L268.0,97.6 L269.2,97.2 L270.8,96.7 L272.0,96.0 L273.1,95.5 L274.5,96.5 L276.0,95.3 L277.3,96.4 L279.3,95.9 L280.2,95.0 L281.6,95.3 L282.9,95.2 L284.4,96.0 L286.3,95.2 L287.1,95.8 L288.6,94.6 L289.8,94.6 L291.5,94.7 L292.7,94.7 L293.9,94.2 L295.4,94.4 L296.7,93.7 L298.3,94.0 L299.9,94.5 L301.4,94.7 L302.8,95.0 L304.0,94.0 L305.8,93.6 L307.0,94.5 L307.9,94.7 L309.9,94.3 L311.1,94.6 L312.1,94.1 L313.7,94.6 L315.3,94.6 L316.5,94.6 L318.0,94.2 L319.0,93.0 L320.3,93.6 L321.7,94.4 L323.4,94.0 L324.8,94.1 L326.1,92.8 L327.7,94.1 L328.9,93.6 L330.3,92.7 L331.8,93.0 L332.7,93.0" fill="none" stroke="#00008B" stroke-width="7.4" stroke-linejoin="round" stroke-linecap="round"/>
<path d="M330.3,92.7 L331.8,93.0 L332.7,93.0 L334.5,92.8 L335.9,94.1 L337.1,93.0 L338.5,93.5" fill="none" stroke="#00008B" stroke-width="5.6" stroke-linejoin="round" stroke-linecap="round"/>
<path d="M337.1,93.0 L338.5,93.5 L340.0,93.3 L341.3,92.3 L342.3,92.6 L344.2,92.5 L345.4,91.8 L346.4,92.2 L348.2,92.8 L349.6,91.9 L350.9,92.1 L352.2,91.3 L353.9,91.3 L355.3,92.5 L356.0,91.5 L358.0,92.3 L359.1,90.9 L360.2,91.7 L361.5,90.6 L362.8,90.1 L364.7,89.0 L365.9,89.3 L367.3,89.2 L368.1,89.1 L369.7,87.2 L370.6,87.6 L372.3,86.8 L373.3,86.4 L374.6,86.8 L375.7,86.1 L377.5,84.4 L378.8,85.0 L380.0,83.7 L380.9,83.3" fill="none" stroke="#00008B" stroke-width="4.3" stroke-linejoin="round" stroke-linecap="round"/>
<path d="M378.8,85.0 L380.0,83.7 L380.9,83.3 L382.6,83.2 L383.3,82.3 L384.5,81.0 L385.6,81.8 L387.0,81.3 L388.2,79.5 L389.6,78.8 L390.8,79.5 L392.4,78.7 L393.5,78.1 L395.0,76.7 L396.1,75.1 L397.4,75.1 L398.7,74.8" fill="none" stroke="#00008B" stroke-width="5.6" stroke-linejoin="round" stroke-linecap="round"/>
<circle cx="207.6" cy="128.9" r="1.3" fill="#00008B"/>
<circle cx="206.7" cy="131.8" r="1.7" fill="#00008B"/>
<circle cx="208.0" cy="128.9" r="1.6" fill="#00008B"/>
<circle cx="209.3" cy="123.2" r="1.3" fill="#00008B"/>
<circle cx="212.5" cy="121.0" r="1.9" fill="#00008B"/>
<circle cx="211.5" cy="124.2" r="1.3" fill="#00008B"/>
<circle cx="214.2" cy="119.4" r="1.4" fill="#00008B"/>
<circle cx="214.9" cy="123.7" r="1.5" fill="#00008B"/>
<circle cx="216.2" cy="115.7" r="1.4" fill="#00008B"/>
<circle cx="217.0" cy="119.9" r="1.3" fill="#00008B"/>
<circle cx="218.7" cy="113.7" r="1.4" fill="#00008B"/>
<circle cx="218.1" cy="118.1" r="1.5" fill="#00008B"/>
<circle cx="222.9" cy="114.7" r="1.8" fill="#00008B"/>
<circle cx="224.1" cy="108.7" r="1.5" fill="#00008B"/>
<circle cx="228.1" cy="110.6" r="1.6" fill="#00008B"/>
<circle cx="231.7" cy="103.6" r="1.7" fill="#00008B"/>
<circle cx="233.0" cy="102.4" r="1.7" fill="#00008B"/>
<circle cx="233.9" cy="109.1" r="1.4" fill="#00008B"/>
<circle cx="236.3" cy="99.9" r="1.7" fill="#00008B"/>
<circle cx="236.2" cy="105.0" r="1.6" fill="#00008B"/>
<circle cx="238.8" cy="100.4" r="1.2" fill="#00008B"/>
<circle cx="239.3" cy="106.3" r="1.7" fill="#00008B"/>
<circle cx="240.7" cy="104.9" r="1.9" fill="#00008B"/>
<circle cx="243.2" cy="97.3" r="1.5" fill="#00008B"/>
<circle cx="243.5" cy="103.6" r="1.7" fill="#00008B"/>
<circle cx="246.0" cy="102.0" r="1.5" fill="#00008B"/>
<circle cx="249.4" cy="95.7" r="1.7" fill="#00008B"/>
<circle cx="249.7" cy="101.8" r="1.4" fill="#00008B"/>
<circle cx="252.7" cy="101.6" r="1.4" fill="#00008B"/>
<circle cx="255.0" cy="100.9" r="1.5" fill="#00008B"/>
<circle cx="257.5" cy="92.9" r="1.5" fill="#00008B"/>
<circle cx="257.5" cy="101.4" r="1.2" fill="#00008B"/>
<circle cx="261.3" cy="94.2" r="1.8" fill="#00008B"/>
<circle cx="261.3" cy="101.9" r="1.4" fill="#00008B"/>
<circle cx="264.3" cy="93.0" r="1.2" fill="#00008B"/>
<circle cx="263.8" cy="100.5" r="1.4" fill="#00008B"/>
<circle cx="266.1" cy="94.1" r="1.4" fill="#00008B"/>
<circle cx="268.8" cy="93.0" r="1.4" fill="#00008B"/>
<circle cx="271.9" cy="98.9" r="1.5" fill="#00008B"/>
<circle cx="275.1" cy="99.8" r="1.2" fill="#00008B"/>
<circle cx="277.7" cy="92.3" r="1.2" fill="#00008B"/>
<circle cx="277.9" cy="99.3" r="1.4" fill="#00008B"/>
<circle cx="280.0" cy="90.9" r="1.4" fill="#00008B"/>
<circle cx="283.2" cy="92.0" r="1.4" fill="#00008B"/>
<circle cx="283.3" cy="98.0" r="1.8" fill="#00008B"/>
<circle cx="285.6" cy="91.0" r="1.4" fill="#00008B"/>
<circle cx="286.9" cy="99.4" r="1.5" fill="#00008B"/>
<circle cx="288.6" cy="91.2" r="1.8" fill="#00008B"/>
<circle cx="288.9" cy="98.6" r="1.8" fill="#00008B"/>
<circle cx="291.2" cy="98.0" r="1.5" fill="#00008B"/>
<circle cx="294.3" cy="97.3" r="1.4" fill="#00008B"/>
<circle cx="296.8" cy="90.8" r="1.4" fill="#00008B"/>
<circle cx="302.2" cy="92.1" r="1.5" fill="#00008B"/>
<circle cx="302.4" cy="98.5" r="1.5" fill="#00008B"/>
<circle cx="306.1" cy="89.8" r="1.8" fill="#00008B"/>
<circle cx="306.2" cy="96.6" r="1.4" fill="#00008B"/>
<circle cx="308.2" cy="91.4" r="1.3" fill="#00008B"/>
<circle cx="307.4" cy="97.9" r="1.8" fill="#00008B"/>
<circle cx="311.0" cy="91.3" r="1.9" fill="#00008B"/>
<circle cx="311.6" cy="97.8" r="1.7" fill="#00008B"/>
<circle cx="314.2" cy="98.1" r="1.8" fill="#00008B"/>
<circle cx="316.0" cy="97.9" r="1.3" fill="#00008B"/>
<circle cx="318.9" cy="97.2" r="1.8" fill="#00008B"/>
<circle cx="322.1" cy="91.2" r="1.9" fill="#00008B"/>
<circle cx="321.9" cy="98.1" r="1.4" fill="#00008B"/>
<circle cx="324.4" cy="91.0" r="1.4" fill="#00008B"/>
<circle cx="324.4" cy="97.8" r="1.2" fill="#00008B"/>
<circle cx="327.2" cy="90.3" r="1.4" fill="#00008B"/>
<circle cx="327.8" cy="98.1" r="1.2" fill="#00008B"/>
<circle cx="330.4" cy="89.4" r="1.6" fill="#00008B"/>
<circle cx="330.6" cy="95.7" r="1.5" fill="#00008B"/>
<circle cx="333.3" cy="90.2" r="1.4" fill="#00008B"/>
<circle cx="332.6" cy="95.8" r="1.8" fill="#00008B"/>
<circle cx="336.2" cy="96.1" r="1.3" fill="#00008B"/>
<circle cx="338.4" cy="90.9" r="1.8" fill="#00008B"/>
<circle cx="338.4" cy="96.1" r="1.3" fill="#00008B"/>
<circle cx="341.5" cy="90.2" r="1.8" fill="#00008B"/>
<circle cx="341.1" cy="94.5" r="1.6" fill="#00008B"/>
<circle cx="344.2" cy="90.8" r="1.8" fill="#00008B"/>
<circle cx="344.6" cy="94.5" r="1.9" fill="#00008B"/>
<circle cx="347.0" cy="90.7" r="1.9" fill="#00008B"/>
<circle cx="347.0" cy="93.5" r="1.5" fill="#00008B"/>
<circle cx="349.1" cy="94.4" r="1.8" fill="#00008B"/>
<circle cx="352.7" cy="89.5" r="1.8" fill="#00008B"/>
<circle cx="352.1" cy="92.9" r="1.6" fill="#00008B"/>
<circle cx="355.0" cy="91.1" r="1.7" fill="#00008B"/>
<circle cx="358.3" cy="90.2" r="1.2" fill="#00008B"/>
<circle cx="360.3" cy="89.5" r="1.6" fill="#00008B"/>
<circle cx="360.3" cy="93.6" r="1.5" fill="#00008B"/>
<circle cx="362.7" cy="88.2" r="1.2" fill="#00008B"/>
<circle cx="362.4" cy="92.1" r="1.7" fill="#00008B"/>
<circle cx="365.9" cy="90.8" r="1.3" fill="#00008B"/>
<circle cx="367.6" cy="87.3" r="1.5" fill="#00008B"/>
<circle cx="368.3" cy="90.4" r="1.3" fill="#00008B"/>
<circle cx="370.6" cy="85.2" r="1.2" fill="#00008B"/>
<circle cx="371.3" cy="89.4" r="1.3" fill="#00008B"/>
<circle cx="375.2" cy="83.6" r="1.9" fill="#00008B"/>
<circle cx="376.2" cy="88.7" r="1.3" fill="#00008B"/>
<circle cx="381.2" cy="81.4" r="1.3" fill="#00008B"/>
<circle cx="382.8" cy="79.5" r="1.6" fill="#00008B"/>
<circle cx="385.6" cy="79.7" r="1.4" fill="#00008B"/>
<circle cx="385.2" cy="83.7" r="1.9" fill="#00008B"/>
<circle cx="387.7" cy="76.4" r="1.7" fill="#00008B"/>
<circle cx="388.4" cy="82.1" r="1.5" fill="#00008B"/>
<circle cx="391.3" cy="82.2" r="1.3" fill="#00008B"/>
<circle cx="393.9" cy="80.6" r="1.4" fill="#00008B"/>
<circle cx="396.5" cy="77.6" r="1.5" fill="#00008B"/>
<circle cx="398.0" cy="71.7" r="1.8" fill="#00008B"/>
<circle cx="399.4" cy="77.7" r="1.6" fill="#00008B"/>
<line x1="316.5" y1="93.9" x2="316.9" y2="100.6" stroke="#00008B" stroke-width="3.0" stroke-linecap="round"/>
<line x1="318.8" y1="93.9" x2="319.2" y2="101.4" stroke="#00008B" stroke-width="3.0" stroke-linecap="round"/>
<line x1="314.2" y1="94.0" x2="314.59999999999997" y2="86.4" stroke="#00008B" stroke-width="3.0" stroke-linecap="round"/>
<line x1="320.4" y1="93.8" x2="320.79999999999995" y2="87.2" stroke="#00008B" stroke-width="3.0" stroke-linecap="round"/>
<line x1="333.6" y1="93.4" x2="334.0" y2="87.0" stroke="#00008B" stroke-width="3.0" stroke-linecap="round"/>
<line x1="343.5" y1="92.9" x2="343.9" y2="88.6" stroke="#00008B" stroke-width="3.0" stroke-linecap="round"/>
<line x1="348.2" y1="92.4" x2="348.59999999999997" y2="96.6" stroke="#00008B" stroke-width="3.0" stroke-linecap="round"/>
<line x1="352.8" y1="91.9" x2="353.2" y2="88.8" stroke="#00008B" stroke-width="3.0" stroke-linecap="round"/>
<line x1="358.6" y1="91.4" x2="359.0" y2="95.6" stroke="#00008B" stroke-width="3.0" stroke-linecap="round"/>
<line x1="364.5" y1="89.6" x2="364.9" y2="86.2" stroke="#00008B" stroke-width="3.0" stroke-linecap="round"/>
<line x1="371.0" y1="87.6" x2="371.4" y2="93.0" stroke="#00008B" stroke-width="3.0" stroke-linecap="round"/>
<line x1="376.5" y1="85.4" x2="376.9" y2="82.6" stroke="#00008B" stroke-width="3.0" stroke-linecap="round"/>
<path d="M146.1,242.0 L146.8,241.8 L147.9,242.3 L149.0,242.2 L150.1,241.9 L150.9,242.3 L151.8,241.8 L152.9,241.8 L153.9,242.0 L155.0,242.3 L155.9,242.3 L157.0,241.9 L158.2,242.0 L158.9,241.8 L160.0,242.5 L161.1,242.1 L161.9,241.8 L163.1,242.3 L163.9,242.3 L165.0,242.6 L166.1,242.0 L167.1,241.8 L168.0,242.1 L168.9,241.8 L170.1,241.8 L171.0,242.6 L171.9,241.9 L173.0,242.2 L174.1,242.5 L174.9,242.0 L175.9,241.8 L177.1,242.5 L178.1,241.8 L179.1,242.4 L180.0,242.4 L181.0,242.0 L181.9,242.0 L182.8,242.1 L184.1,242.4 L185.1,242.4 L185.9,242.2 L187.0,242.5 L188.0,242.0 L189.1,242.6 L189.9,242.5 L190.8,242.0 L191.9,242.4 L193.2,242.4 L193.9,242.5 L194.9,242.0 L196.1,242.3 L197.1,242.3 L198.2,242.2 L199.1,242.4 L200.1,242.1 L201.1,242.3 L201.9,241.9 L203.0,241.8 L204.1,241.9 L204.8,241.8 L206.2,242.1 L206.9,241.8 L207.8,242.4 L209.0,242.4 L210.1,241.8 L211.0,242.1 L212.1,242.5 L213.1,241.8 L214.1,242.6 L215.2,241.8 L215.9,241.9 L216.8,242.5 L218.1,242.3 L219.1,242.3 L219.9,241.8 L220.9,242.4 L221.9,242.0 L223.0,241.8 L223.9,242.0 L225.1,242.1 L225.9,242.6 L227.0,242.5 L228.0,241.8 L229.0,242.1 L230.1,242.1 L231.1,242.2 L231.9,242.5 L232.9,242.5 L233.9,241.8 L234.9,242.4 L236.2,241.8 L237.0,242.2 L238.1,241.9 L239.0,242.1 L240.1,242.0 L241.2,242.0 L241.9,242.4 L243.0,241.8 L244.0,241.8 L245.1,242.4 L246.1,242.3 L246.9,242.1 L248.0,242.6 L248.9,242.5 L249.8,241.9 L250.9,242.6 L252.0,242.1 L253.1,241.9 L254.0,242.2 L255.1,242.4 L256.1,242.0 L256.9,241.8 L258.1,242.3 L259.1,241.8 L260.0,242.4 L261.0,241.8 L262.0,242.4 L262.9,241.7 L263.9,242.0 L265.1,241.4 L265.9,241.4 L266.8,241.2 L267.7,240.5 L268.6,240.7 L269.7,239.4 L270.7,239.0 L271.4,239.4 L272.4,238.5 L273.2,237.2 L274.2,236.5 L274.9,236.1 L275.7,235.2 L276.9,234.6 L277.0,233.4 L277.1,231.8 L277.3,230.9 L277.5,230.2 L277.4,228.7 L277.6,227.4 L277.9,226.7 L278.7,225.7 L279.1,224.8 L279.9,223.7 L280.6,222.6 L281.5,221.6 L282.3,221.5 L283.0,220.6 L283.5,219.6 L284.2,219.0 L284.8,218.3 L285.7,217.0 L286.2,216.8 L286.8,215.8 L287.7,214.6 L288.2,213.9 L289.0,214.0 L289.7,212.4 L290.4,212.1 L291.2,211.3 L291.8,210.8 L292.5,209.7 L293.4,208.7 L293.9,208.1 L294.7,206.9 L295.4,206.3 L295.7,205.4 L296.5,204.3 L297.2,203.9 L298.0,203.0 L298.5,202.0 L299.3,201.9 L299.9,200.2 L300.6,199.5 L301.0,198.4 L301.9,198.2 L302.5,196.9 L303.1,195.8 L303.9,195.0 L304.4,194.6 L305.1,193.4 L305.5,192.7 L306.0,192.1 L306.7,191.3 L307.3,190.0 L308.0,189.2 L308.5,187.9 L309.4,187.3 L309.8,186.5 L310.5,185.8 L311.2,185.2 L311.7,184.6 L312.5,182.8 L313.1,182.8 L313.6,181.1 L314.2,180.7 L314.5,179.2 L315.4,178.9 L315.7,177.4 L316.3,176.6 L317.1,175.8 L317.4,175.6 L318.3,174.0 L318.9,173.6 L319.4,172.8 L320.0,172.1 L320.6,170.7 L321.1,170.2 L321.7,169.2 L322.3,168.5 L322.6,167.3 L323.2,166.7 L323.8,165.8 L324.5,165.0 L325.3,164.1 L326.0,162.7 L326.7,162.3 L327.2,161.6 L328.0,160.4 L328.4,160.1 L328.9,158.9 L329.8,157.5 L330.4,157.3 L331.2,156.1 L331.9,155.5 L332.3,155.0 L332.7,153.8 L333.5,152.3 L334.1,151.3 L334.5,150.4 L335.0,149.1 L335.3,148.4 L335.8,147.8 L336.1,146.8 L336.6,145.5 L337.0,144.6 L337.7,143.8 L338.1,142.5 L338.5,141.5 L339.1,140.8 L339.7,139.3 L340.2,139.1 L340.6,137.3 L341.0,136.3 L341.5,136.4 L342.2,135.2 L342.8,134.6 L343.2,133.5 L343.8,132.7 L344.3,131.8 L344.6,130.9 L345.3,130.1 L345.6,128.7 L346.3,128.4 L347.2,127.4 L347.7,126.7 L348.5,125.6 L348.9,124.4 L349.6,123.6 L350.2,123.0 L351.1,121.6 L351.6,120.7 L352.0,120.7 L352.8,120.0 L353.4,118.3 L354.0,118.1 L354.9,117.7 L355.4,116.3 L355.8,115.7 L356.6,114.5 L357.3,113.5 L358.3,112.8 L359.1,112.0 L359.8,111.2 L360.2,111.0 L361.0,110.2 L361.6,108.7 L362.5,108.6 L363.2,107.8 L363.6,106.9 L364.5,105.9 L365.3,104.9 L366.0,104.5 L366.2,103.0 L367.2,103.0 L367.6,101.6 L368.5,100.7 L369.2,100.2 L369.6,99.3 L370.5,98.6 L371.2,97.5 L372.0,96.9 L372.6,96.4 L373.2,95.4 L374.0,95.2 L374.7,94.0 L375.2,92.7 L376.1,92.6 L376.7,91.4 L377.3,91.3 L378.2,90.2 L378.7,89.4 L379.7,88.6 L380.4,88.1 L381.2,87.7 L381.7,86.2 L382.4,85.9 L383.3,85.6 L384.2,84.1 L385.0,84.2 L385.9,83.3 L386.5,83.0 L387.6,82.1 L388.5,81.1 L389.0,80.7 L390.2,79.7 L391.0,79.7 L391.8,78.9 L393.0,78.3 L393.9,77.6 L395.1,77.7 L396.3,76.6 L397.7,76.9 L398.7,76.3" fill="none" stroke="#FF9A22" stroke-width="4.9" stroke-linejoin="round" stroke-linecap="round"/>
<circle cx="315.8" cy="173.0" r="3.4" fill="#FF9A22"/>
<circle cx="396.3" cy="73.2" r="2.3" fill="#00008B"/>
<circle cx="398.6" cy="71.6" r="2.4" fill="#00008B"/>
<circle cx="393.6" cy="74.6" r="1.8" fill="#00008B"/>
<circle cx="398.4" cy="75.5" r="1.6" fill="#00008B"/>
<circle cx="316.5" cy="173.5" r="2.6" fill="#FF9A22"/>
<path d="M103,242 L146,242" fill="none" stroke="#FF9A22" stroke-width="3.8" stroke-dasharray="6.8 1.4 6.4 1.0 5.6 1.6 14.5 1.3 4.4 0.1" stroke-linecap="butt"/>
<ellipse cx="99.3" cy="241.9" rx="3.0" ry="2.3" fill="#00008B"/>
<line x1="184.80" y1="165.60" x2="184.80" y2="206.00" stroke="#8E8E8E" stroke-width="2.1" />
<polygon points="177.6,203.6 192.0,203.6 184.8,220.6" fill="#8E8E8E"/>
<line x1="278.80" y1="165.60" x2="278.80" y2="206.00" stroke="#8E8E8E" stroke-width="2.1" />
<polygon points="271.6,203.6 286.0,203.6 278.8,220.6" fill="#8E8E8E"/>
<text transform="translate(49.94,534.35) scale(1.0700,1)" font-size="24.3" fill="#FF9A22"  xml:space="preserve"><tspan font-family='"Liberation Sans", sans-serif' font-style="normal">0</tspan></text>
<text transform="translate(50.27,435.07) scale(1.0700,1)" font-size="24.3" fill="#FF9A22"  xml:space="preserve"><tspan font-family='"Liberation Sans", sans-serif' font-style="normal">2</tspan></text>
<text transform="translate(49.68,335.79) scale(1.0700,1)" font-size="24.3" fill="#FF9A22"  xml:space="preserve"><tspan font-family='"Liberation Sans", sans-serif' font-style="normal">4</tspan></text>
<text transform="translate(50.07,236.51) scale(1.0700,1)" font-size="24.3" fill="#FF9A22"  xml:space="preserve"><tspan font-family='"Liberation Sans", sans-serif' font-style="normal">6</tspan></text>
<text transform="translate(50.07,137.23) scale(1.0700,1)" font-size="24.3" fill="#FF9A22"  xml:space="preserve"><tspan font-family='"Liberation Sans", sans-serif' font-style="normal">8</tspan></text>
<text transform="translate(35.51,37.95) scale(1.0700,1)" font-size="24.3" fill="#FF9A22"  xml:space="preserve"><tspan font-family='"Liberation Sans", sans-serif' font-style="normal">10</tspan></text>
<text transform="translate(583.56,534.35) scale(1.0700,1)" font-size="24.3" fill="#141450"  xml:space="preserve"><tspan font-family='"Liberation Sans", sans-serif' font-style="normal">0</tspan></text>
<text transform="translate(583.56,451.62) scale(1.0700,1)" font-size="24.3" fill="#141450"  xml:space="preserve"><tspan font-family='"Liberation Sans", sans-serif' font-style="normal">0.2</tspan></text>
<text transform="translate(583.56,368.89) scale(1.0700,1)" font-size="24.3" fill="#141450"  xml:space="preserve"><tspan font-family='"Liberation Sans", sans-serif' font-style="normal">0.4</tspan></text>
<text transform="translate(583.56,286.15) scale(1.0700,1)" font-size="24.3" fill="#141450"  xml:space="preserve"><tspan font-family='"Liberation Sans", sans-serif' font-style="normal">0.6</tspan></text>
<text transform="translate(583.56,203.42) scale(1.0700,1)" font-size="24.3" fill="#141450"  xml:space="preserve"><tspan font-family='"Liberation Sans", sans-serif' font-style="normal">0.8</tspan></text>
<text transform="translate(582.65,120.69) scale(1.0700,1)" font-size="24.3" fill="#141450"  xml:space="preserve"><tspan font-family='"Liberation Sans", sans-serif' font-style="normal">1.0</tspan></text>
<text transform="translate(582.65,37.95) scale(1.0700,1)" font-size="24.3" fill="#141450"  xml:space="preserve"><tspan font-family='"Liberation Sans", sans-serif' font-style="normal">1.2</tspan></text>
<text transform="translate(62.45,556.80) scale(1.1000,1)" font-size="24.3" fill="#000"  xml:space="preserve"><tspan font-family='"Liberation Sans", sans-serif' font-style="normal">0</tspan></text>
<text transform="translate(215.25,556.80) scale(1.1000,1)" font-size="24.3" fill="#000"  xml:space="preserve"><tspan font-family='"Liberation Sans", sans-serif' font-style="normal">100</tspan></text>
<text transform="translate(383.71,556.80) scale(1.1000,1)" font-size="24.3" fill="#000"  xml:space="preserve"><tspan font-family='"Liberation Sans", sans-serif' font-style="normal">200</tspan></text>
<text transform="translate(552.01,556.80) scale(1.1000,1)" font-size="24.3" fill="#000"  xml:space="preserve"><tspan font-family='"Liberation Sans", sans-serif' font-style="normal">300</tspan></text>
<text transform="translate(297.72,580.80) scale(0.9046,1)" font-size="24.3" fill="#000"  xml:space="preserve"><tspan font-family='"Liberation Sans", sans-serif' font-style="italic">T</tspan><tspan font-family='"Liberation Sans", sans-serif' font-style="normal"> (K)</tspan></text>
<text transform="translate(40.90,305.02) rotate(-90) scale(0.8475,1)" font-size="24.4" fill="#FF9A22" xml:space="preserve"><tspan font-family='"Liberation Sans", sans-serif' font-style="italic">R</tspan></text>
<text transform="translate(40.90,284.24) rotate(-90) scale(0.8815,1)" font-size="24.4" fill="#FF9A22" xml:space="preserve"><tspan font-family='"Liberation Sans", sans-serif' font-style="normal">(</tspan></text>
<text transform="translate(40.90,278.17) rotate(-90) scale(1.1463,1)" font-size="24.4" fill="#FF9A22" xml:space="preserve"><tspan font-family='"Liberation Serif", serif' font-style="normal">Ω</tspan></text>
<text transform="translate(40.90,257.57) rotate(-90) scale(0.9434,1)" font-size="24.4" fill="#FF9A22" xml:space="preserve"><tspan font-family='"Liberation Sans", sans-serif' font-style="normal">)</tspan></text>
<text transform="translate(628.30,253.68) rotate(90) scale(0.8278,1)" font-size="24.799999999999997" fill="#141450" xml:space="preserve"><tspan font-family='"Liberation Sans", sans-serif' font-style="italic">R</tspan></text>
<text transform="translate(628.30,274.51) rotate(90) scale(0.8977,1)" font-size="24.799999999999997" fill="#141450" xml:space="preserve"><tspan font-family='"Liberation Sans", sans-serif' font-style="normal">(</tspan></text>
<text transform="translate(628.30,281.16) rotate(90) scale(1.1089,1)" font-size="24.799999999999997" fill="#141450" xml:space="preserve"><tspan font-family='"Liberation Serif", serif' font-style="normal">Ω</tspan></text>
<text transform="translate(628.30,301.02) rotate(90) scale(0.9434,1)" font-size="24.799999999999997" fill="#141450" xml:space="preserve"><tspan font-family='"Liberation Sans", sans-serif' font-style="normal">)</tspan></text>
<text transform="translate(108.82,259.40) scale(1.0600,1)" font-size="14.2" fill="#8B0074"  xml:space="preserve"><tspan font-family='"Liberation Sans", sans-serif' font-style="normal">4</tspan></text>
<text transform="translate(132.82,259.40) scale(1.0600,1)" font-size="14.2" fill="#8B0074"  xml:space="preserve"><tspan font-family='"Liberation Sans", sans-serif' font-style="normal">6</tspan></text>
<text transform="translate(149.97,259.40) scale(1.0600,1)" font-size="14.2" fill="#8B0074"  xml:space="preserve"><tspan font-family='"Liberation Sans", sans-serif' font-style="normal">8</tspan></text>
<text transform="translate(204.40,259.40) scale(1.0600,1)" font-size="14.2" fill="#8B0074"  xml:space="preserve"><tspan font-family='"Liberation Sans", sans-serif' font-style="normal">2</tspan></text>
<text transform="translate(245.62,259.40) scale(1.0600,1)" font-size="14.2" fill="#8B0074"  xml:space="preserve"><tspan font-family='"Liberation Sans", sans-serif' font-style="normal">4</tspan></text>
<text transform="translate(269.62,259.40) scale(1.0600,1)" font-size="14.2" fill="#8B0074"  xml:space="preserve"><tspan font-family='"Liberation Sans", sans-serif' font-style="normal">6</tspan></text>
<text transform="translate(286.77,259.40) scale(1.0600,1)" font-size="14.2" fill="#8B0074"  xml:space="preserve"><tspan font-family='"Liberation Sans", sans-serif' font-style="normal">8</tspan></text>
<text transform="translate(341.20,259.40) scale(1.0600,1)" font-size="14.2" fill="#8B0074"  xml:space="preserve"><tspan font-family='"Liberation Sans", sans-serif' font-style="normal">2</tspan></text>
<text transform="translate(382.42,259.40) scale(1.0600,1)" font-size="14.2" fill="#8B0074"  xml:space="preserve"><tspan font-family='"Liberation Sans", sans-serif' font-style="normal">4</tspan></text>
<text transform="translate(152.10,279.40) scale(1.1656,1)" font-size="19.3" fill="#8B0074"  xml:space="preserve"><tspan font-family='"Liberation Sans", sans-serif' font-style="normal">0.1</tspan></text>
<text transform="translate(298.02,279.40) scale(1.1000,1)" font-size="19.3" fill="#8B0074"  xml:space="preserve"><tspan font-family='"Liberation Sans", sans-serif' font-style="normal">1</tspan></text>
<text transform="translate(407.47,249.13) scale(1.0738,1)" font-size="19.3" fill="#8B0074"  xml:space="preserve"><tspan font-family='"Liberation Sans", sans-serif' font-style="normal">0.0</tspan></text>
<text transform="translate(407.47,166.43) scale(1.0758,1)" font-size="19.3" fill="#8B0074"  xml:space="preserve"><tspan font-family='"Liberation Sans", sans-serif' font-style="normal">0.5</tspan></text>
<text transform="translate(406.70,83.72) scale(1.1032,1)" font-size="19.3" fill="#8B0074"  xml:space="preserve"><tspan font-family='"Liberation Sans", sans-serif' font-style="normal">1.0</tspan></text>
<text transform="translate(222.79,291.00) scale(0.9185,1)" font-size="24.3" fill="#8B0074"  xml:space="preserve"><tspan font-family='"Liberation Sans", sans-serif' font-style="italic">T</tspan><tspan font-family='"Liberation Sans", sans-serif' font-style="normal"> (K)</tspan></text>
<text transform="translate(449.30,80.76) rotate(90) scale(1.0096,1)" font-size="24.3" fill="#8B0074" xml:space="preserve"><tspan font-family='"Liberation Sans", sans-serif' font-style="italic">R / R</tspan></text>
<text transform="translate(449.30,139.44) rotate(90) scale(0.9635,1)" font-size="24.3" fill="#8B0074" xml:space="preserve"><tspan font-family='"Liberation Sans", sans-serif' font-style="normal">(</tspan><tspan font-family='"Liberation Sans", sans-serif' font-style="italic">T</tspan><tspan font-family='"Liberation Sans", sans-serif' font-style="normal">=5K)</tspan></text>
<text transform="translate(326.14,217.70) scale(0.8918,1)" font-size="23.2" fill="#8E8E8E"  xml:space="preserve"><tspan font-family='"Liberation Sans", sans-serif' font-style="italic">T</tspan></text>
<text transform="translate(338.87,223.00) scale(1.0532,1)" font-size="15.6" fill="#8E8E8E"  xml:space="preserve"><tspan font-family='"Liberation Sans", sans-serif' font-style="italic">c, 10%</tspan></text>
<rect x="124" y="354" width="86" height="58" fill="none" stroke="#FF9A22" stroke-width="1.3"/>
<text transform="translate(127.97,379.20) scale(1.0543,1)" font-size="19.6" fill="#FF9A22"  xml:space="preserve"><tspan font-family='"Liberation Sans", sans-serif' font-style="normal">Strained</tspan></text>
<text transform="translate(128.33,402.00) scale(1.0754,1)" font-size="16" fill="#FF9A22" stroke="#FF9A22" stroke-width="0.45" xml:space="preserve"><tspan font-family='"Liberation Sans", sans-serif' font-style="normal">S2</tspan></text>
<rect x="496.6" y="318.2" width="49.5" height="56.6" fill="none" stroke="#00008B" stroke-width="1.4"/>
<text transform="translate(500.34,342.80) scale(1.0257,1)" font-size="19.6" fill="#00008B"  xml:space="preserve"><tspan font-family='"Liberation Sans", sans-serif' font-style="normal">Free</tspan></text>
<text transform="translate(501.23,365.30) scale(1.0730,1)" font-size="16" fill="#00008B" stroke="#00008B" stroke-width="0.45" xml:space="preserve"><tspan font-family='"Liberation Sans", sans-serif' font-style="normal">S1</tspan></text>
</svg>
</body></html>
